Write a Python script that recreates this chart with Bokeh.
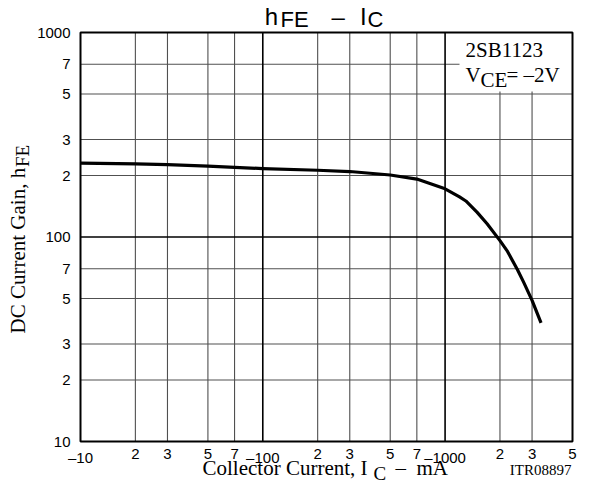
import math
from bokeh.plotting import figure
from bokeh.models import Label, Range1d
from bokeh.embed import file_html
from bokeh.resources import INLINE

# ---- data ----
ic_ma = [10, 20, 30, 50, 70, 100, 200, 300, 500, 700, 1000, 1200, 1300, 1500,
         1700, 2000, 2200, 2500, 2700, 3000, 3360]
hfe = [230, 228, 226, 222, 219, 216, 212, 209, 201, 192, 172, 157, 150, 132,
       116, 96, 85, 69, 60, 49, 38]

x_minor_ticks = [20, 30, 50, 70, 200, 300, 500, 700, 2000, 3000, 5000]
x_minor_labels = ["2", "3", "5", "7", "2", "3", "5", "7", "2", "3", "5"]
x_decade_ticks = [10, 100, 1000]
x_decade_labels = ["–10", "–100", "–1000"]
y_ticks = [10, 20, 30, 50, 70, 100, 200, 300, 500, 700, 1000]
y_labels = ["10", "2", "3", "5", "7", "100", "2", "3", "5", "7", "1000"]
y_decade_ticks = [100]

# axis limits of the chart
X0, X1 = 10, 5000
Y0, Y1 = 10, 1000

SANS = "Liberation Sans"
SERIF = "Liberation Serif"

# canvas and position of the chart box inside it (pixels)
W, H = 582, 488
BL, BR, BT, BB = 80, 572, 32, 441
BW, BH = BR - BL, BB - BT

kx = math.log10(X1 / X0) / BW
ky = math.log10(Y1 / Y0) / BH
x_range = Range1d(10 ** (math.log10(X0) - BL * kx), 10 ** (math.log10(X1) + (W - BR) * kx))
y_range = Range1d(10 ** (math.log10(Y0) - (H - BB) * ky), 10 ** (math.log10(Y1) + BT * ky))

p = figure(width=W, height=H, x_axis_type="log", y_axis_type="log",
           x_range=x_range, y_range=y_range,
           output_backend="svg", toolbar_location=None,
           min_border_left=0, min_border_right=0,
           min_border_top=0, min_border_bottom=0)
p.title.visible = False
p.xaxis.visible = False
p.yaxis.visible = False
p.xgrid.visible = False
p.ygrid.visible = False
p.background_fill_color = "white"
p.border_fill_color = "white"
p.outline_line_color = None


def xdat(dx):
    return 10 ** (math.log10(X0) + dx * kx)


def ydat(dy):
    return 10 ** (math.log10(Y0) + dy * ky)


# grid lines
xm = [t for t in x_minor_ticks if t < X1]
ym = [t for t in y_ticks if t not in (Y0, Y1) and t not in y_decade_ticks]
p.segment(x0=xm, y0=[Y0] * len(xm), x1=xm, y1=[Y1] * len(xm),
          line_color="#505050", line_width=1.1)
p.segment(x0=[X0] * len(ym), y0=ym, x1=[X1] * len(ym), y1=ym,
          line_color="#505050", line_width=1.1)
xd = [t for t in x_decade_ticks if t > X0]
p.segment(x0=xd, y0=[Y0] * len(xd), x1=xd, y1=[Y1] * len(xd),
          line_color="black", line_width=1.6)
p.segment(x0=[X0] * len(y_decade_ticks), y0=y_decade_ticks,
          x1=[X1] * len(y_decade_ticks), y1=y_decade_ticks,
          line_color="black", line_width=1.6)

# white box behind the legend text
p.quad(left=[xdat(379)], right=[X1], bottom=[ydat(350)], top=[Y1],
       fill_color="white", line_color=None)

# chart box
p.quad(left=[X0], right=[X1], bottom=[Y0], top=[Y1],
       fill_color=None, line_color="black", line_width=2)

# curve
p.line(ic_ma, hfe, line_color="black", line_width=3.2, line_join="round")

MID = 0.345  # distance of text middle above the alphabetic baseline, in em


def lab(text, dx, dy, size, font, align="left", angle=0.0, xd=X0, yd=Y0):
    # dx, dy: pixel offset of the text baseline start from (xd, yd)
    if angle == 0.0:
        xo, yo = dx, dy + MID * size
    else:
        xo, yo = dx - MID * size, dy
    p.add_layout(Label(x=xd, y=yd, x_offset=xo, y_offset=yo, text=text,
                       text_font=font, text_font_size=f"{size}px",
                       text_align=align, text_baseline="middle",
                       angle=angle, text_color="black"))


# tick labels
for t, s in zip(y_ticks, y_labels):
    lab(s, -10, -5.4, 15, SANS, align="right", yd=t)
for t, s in zip(x_minor_ticks, x_minor_labels):
    lab(s, 0, -17.3, 15, SANS, align="center", xd=t)
for t, s in zip(x_decade_ticks, x_decade_labels):
    lab(s, 0, -21.3, 15, SANS, align="center", xd=t)

# title  h_FE – I_C
lab("h", 184.3, 417, 24, SANS)
lab("FE", 200, 414, 22, SANS)
lab("–", 251, 417, 24, SANS)
lab("I", 279.5, 417, 24, SANS)
lab("C", 287, 414, 22, SANS)

# y-axis title  DC Current Gain, h_FE
lab("DC Current Gain, h", -55, 108, 21, SERIF, angle=math.pi / 2)
lab("FE", -51, 274.5, 19, SERIF, angle=math.pi / 2)

# x-axis title  Collector Current, I_C – mA
lab("Collector Current, I", 122, -34, 21, SERIF)
lab("C", 293, -38.5, 19, SERIF)
lab("–", 315, -34, 21, SERIF)
lab("mA", 336, -34, 21, SERIF)
lab("ITR08897", 491, -34, 15, SERIF, align="right")

# legend text
lab("2SB1123", 385, 384, 21, SERIF)
lab("V", 385, 359, 21, SERIF)
lab("CE", 400, 354, 21, SERIF)
lab("= –2V", 426, 359, 21, SERIF)

open("out.html", "w").write(file_html(p, INLINE))
